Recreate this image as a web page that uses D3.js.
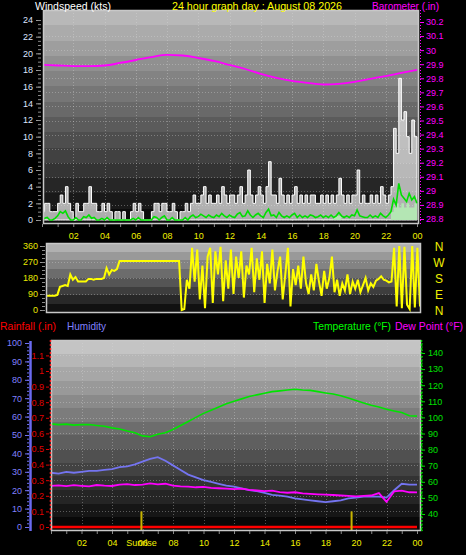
<!DOCTYPE html>
<html><head><meta charset="utf-8">
<script src="https://cdn.jsdelivr.net/npm/d3@7/dist/d3.min.js"></script>
<style>
html,body{margin:0;padding:0;background:#000;}
svg{display:block;}
text{font-family:"Liberation Sans",Arial,sans-serif;}
</style></head><body>
<svg id="chart" width="466" height="555"></svg>
<script>
// ---------------- DATA ----------------
const titleText = "24 hour graph day : August 08 2026";
const hourTicks = [2,4,6,8,10,12,14,16,18,20,22,24];
const hourLabels = ["02","04","06","08","10","12","14","16","18","20","22","00"];

// wind (kts), every 10 minutes, 00:00 .. 24:00
const windGust = [
 1,2,2,1,1,1, 2,3,2,4,2,1, 0,2,1,1,2,2, 4,2,2,1,1,2, 1,2,1,0,1,1, 0,1,0,0,1,2,
 1,2,1,0,0,0, 1,2,2,1,2,2, 1,1,2,1,0,1, 1,2,1,2,3,2, 2,3,4,2,3,2, 2,3,2,4,3,2,
 3,3,2,3,4,2, 3,6,3,2,3,4, 3,2,4,7,3,3, 2,5,3,2,3,2, 3,4,2,3,2,3, 2,3,3,2,2,3,
 2,3,2,3,2,3, 5,3,2,3,2,3, 3,6,2,3,2,2, 3,2,3,2,4,3, 2,3,4,11,8,17, 12,13,10,8,12,10,
 5];
const windAvg = [
 0,0.2,0.3,0,0,0.2, 0.5,1,0.8,1.1,0.4,0, 0,0.3,0,0,0.4,0.3, 0.6,0.2,0.3,0,0,0.2,
 0,0.3,0,0,0,0, 0,0,0,0,0,0.2, 0,0.3,0,0,0,0, 0,0.4,0.3,0,0.3,0.5,
 0,0,0.3,0,0,0, 0,0.3,0,0.4,0.6,0.3, 0.4,0.7,0.5,0.3,0.6,0.4, 0.3,0.6,0.4,0.8,0.5,0.3,
 0.6,0.4,0.3,0.7,0.9,0.4, 0.5,1.1,0.6,0.3,0.6,0.8, 0.5,0.3,0.9,1.3,0.5,0.6, 0.3,0.9,0.5,0.3,0.5,0.3,
 0.6,0.8,0.3,0.6,0.3,0.5, 0.3,0.6,0.5,0.3,0.4,0.6, 0.3,0.5,0.3,0.6,0.3,0.5, 0.9,0.5,0.3,0.5,0.3,0.6,
 0.5,1.2,0.5,0.4,0.3,0.3, 0.6,0.3,0.5,0.3,0.8,0.5, 0.3,0.6,1,2.5,1.8,4.4, 3,2.6,2.2,3.2,2.4,2.8,
 2];
const windLull = [
 0,0,0,0,0,0, 0,0,0,0,0,0, 0,0,0,0,0,0, 0,0,0,0,0,0, 0,0,0,0,0,0, 0,0,0,0,0,0,
 0,0,0,0,0,0, 0,0,0,0,0,0, 0,0,0,0,0,0, 0,0,0,0,0,0, 0,0,0,0,0,0, 0,0,0,0,0,0,
 0,0,0,0,0,0, 0,0,0,0,0,0, 0,0,0,0,0,0, 0,0,0,0,0,0, 0,0,0,0,0,0, 0,0,0,0,0,0,
 0,0,0,0,0.5,0.5, 0.5,0,0,0,0,0, 0,0,0,0,0,0, 0,0,0,0,0,0, 0,0,1,1.5,2,1.5, 2,1.5,2,1.5,1.5,2,
 1.5];
// wind direction (degrees), every 10 minutes
const windDir = [
 80,80,80,80,85, 130,135,140,135, 200,170,185,160, 160,160,160,
 175,175,170,175,175,175,180, 235,200,225,220,230,
 275,275,275,275,275,275,275,275,275,275,275,275,275,275,275,275,275,275,275,275,275,275,275,275,
 0,5,
 170,120,350,160,340,60,250,10,300,350,40,330,200,355,50,280,120,340,
 90,300,180,330,70,250,200,350,100,290,170,330,40,260,150,340,110,220,300,60,200,350,20,230,
 140,250,120,300,150,90,200,110,260,160,80,220,120,180,
 300,100,170,80,150,110,200,90,160,120,170,100,140,180,110,
 150,130,165,175,190,170,165,155,160,
 350,20,360,10,355,30,5,360,15,350,20];
// barometer (inHg), hourly
const barometer = [29.895,29.891,29.887,29.887,29.891,29.909,29.930,29.951,29.966,29.962,29.944,29.923,
 29.895,29.866,29.831,29.803,29.781,29.767,29.756,29.760,29.774,29.796,29.816,29.838,29.859];

// half-hourly bottom panel series
const temperature = [96,95.5, 95.8,95.2, 95.5,95.6, 95,94.5, 93.5,92.8, 91.5,90.5, 88.5,88, 89.5,90.5,
 92.5,95, 97.5,100, 102.5,104.5, 106.5,108.5, 110,111.5, 113,114, 115,116, 116.5,117, 117.5,117,
 116.8,116, 115.2,114.5, 113.5,112, 110.5,109, 107.5,106.5, 105,104, 103,101, 100.8];
const dewPoint = [57.5,57.8, 57.3,57.9, 57.5,57.2, 58,57.6, 57.4,58.2, 58.6,58, 58.3,59, 58.4,58.8,
 57.6,57.2, 57,56.6, 56.8,56.2, 56,55.8, 55.5,55.8, 55,54.6, 54.2,54.5, 53.6,53.2, 53.5,52.8,
 52.5,52.2, 52,51.8, 51.5,51.2, 51,51.3, 51.5,53, 47.5,54, 54.5,53.5, 53.4];
const humidity = [29.5,29, 30,29.5, 30,30.5, 30.5,31, 31.5,32.5, 33,34, 35.5,37, 38,36, 33.5,31,
 28.5,27, 25.5,24.5, 23.5,22.5, 22,21, 20,19.5, 18.5,17.5, 17,16.5, 15.5,15, 14.5,14, 13.5,14,
 14.5,15.5, 16,16.5, 16.5,16.5, 16,20, 23.5,23, 23];
const rainfall = [0,0,0,0,0,0,0,0,0,0,0,0,0,0,0,0,0,0,0,0,0,0,0,0,0];
const sunriseHour = 5.93, sunsetHour = 19.71;

const windTicks = [0,2,4,6,8,10,12,14,16,18,20,22,24];
const baroTicks = [28.8,28.9,29,29.1,29.2,29.3,29.4,29.5,29.6,29.7,29.8,29.9,30,30.1,30.2];
const dirTicks = [0,90,180,270,360];
const compass = ["N","W","S","E","N"];
const compassDeg = [360,270,180,90,0];
const humTicks = [0,10,20,30,40,50,60,70,80,90,100];
const rainTicks = [0,0.1,0.2,0.3,0.4,0.5,0.6,0.7,0.8,0.9,1,1.1];
const tempTicks = [40,50,60,70,80,90,100,110,120,130,140];

// ---------------- LAYOUT ----------------
const P1 = {x0:43, x1:419, y0:10, y1:224};
const P2 = {x0:46, x1:421, y0:243, y1:313};
const P3 = {x0:51, x1:421, y0:340, y1:531};

const xTop = d3.scaleLinear().domain([0,24]).range([42,417]);
const yWind = d3.scaleLinear().domain([0,24]).range([220,20]);
const yBaro = d3.scaleLinear().domain([28.8,30.2]).range([219,22]);
const xDir = d3.scaleLinear().domain([0,24]).range([47,420]);
const yDir = d3.scaleLinear().domain([0,360]).range([310,246]);
const xBot = d3.scaleLinear().domain([0,24]).range([51,417]);
const yHum = d3.scaleLinear().domain([0,100]).range([527,343]);
const yRain = d3.scaleLinear().domain([0,1.2]).range([527,339.8]);
const yTemp = d3.scaleLinear().domain([40,140]).range([514,353]);

const svg = d3.select("#chart");
const defs = svg.append("defs");

function bandGradient(id, top, bottom, n){
  const g = defs.append("linearGradient").attr("id",id)
    .attr("x1",0).attr("y1",0).attr("x2",0).attr("y2",1);
  const c = d3.interpolateRgb(top,bottom);
  for(let k=0;k<n;k++){
    const col = c(k/(n-1));
    g.append("stop").attr("offset",k/n).attr("stop-color",col);
    g.append("stop").attr("offset",(k+1)/n).attr("stop-color",col);
  }
}
bandGradient("g1","#b8b8b8","#0c0c0c",14);
bandGradient("g2","#b0b0b0","#111111",8);
bandGradient("g3","#c4c4c4","#080808",14);

function panel(P, grad, clipId){
  defs.append("clipPath").attr("id",clipId).append("rect")
    .attr("x",P.x0).attr("y",P.y0).attr("width",P.x1-P.x0).attr("height",P.y1-P.y0);
  svg.append("rect").attr("x",P.x0).attr("y",P.y0).attr("width",P.x1-P.x0).attr("height",P.y1-P.y0)
    .attr("fill",`url(#${grad})`);
}
panel(P1,"g1","c1");
panel(P2,"g2","c2");
panel(P3,"g3","c3");

function hGrid(P, scale, vals, clip){
  svg.append("g").attr("clip-path",`url(#${clip})`).selectAll("line").data(vals).join("line")
    .attr("x1",P.x0).attr("x2",P.x1).attr("y1",d=>Math.round(scale(d))+0.5).attr("y2",d=>Math.round(scale(d))+0.5)
    .attr("stroke","rgba(220,220,220,0.35)").attr("stroke-dasharray","1,2");
}
function vGrid(P, scale, vals, clip){
  svg.append("g").attr("clip-path",`url(#${clip})`).selectAll("line").data(vals).join("line")
    .attr("y1",P.y0).attr("y2",P.y1).attr("x1",d=>Math.round(scale(d))+0.5).attr("x2",d=>Math.round(scale(d))+0.5)
    .attr("stroke","rgba(220,220,220,0.35)").attr("stroke-dasharray","1,2");
}
hGrid(P1,yBaro,baroTicks.slice(1,-1),"c1");
vGrid(P1,xTop,hourTicks.slice(0,-1),"c1");
hGrid(P2,yDir,[90,180,270],"c2");
hGrid(P3,yRain,rainTicks.slice(1),"c3");
vGrid(P3,xBot,hourTicks.slice(0,-1),"c3");

// ---------------- TOP PANEL ----------------
const t10 = windGust.map((_,i)=>i/6);
const gTop = svg.append("g").attr("clip-path","url(#c1)");
gTop.append("path").datum(windGust)
  .attr("d", d3.area().x((d,i)=>xTop(t10[i])).y0(yWind(0)).y1(d=>yWind(d)).curve(d3.curveStepAfter))
  .attr("fill","rgba(235,235,235,0.72)").attr("stroke","#ffffff").attr("stroke-width",1);
gTop.append("path").datum(windLull)
  .attr("d", d3.area().x((d,i)=>xTop(t10[i])).y0(yWind(0)).y1(d=>yWind(d)).curve(d3.curveStepAfter))
  .attr("fill","#b4e6b4");
gTop.append("path").datum(windAvg)
  .attr("d", d3.line().x((d,i)=>xTop(t10[i])).y(d=>yWind(d)))
  .attr("fill","none").attr("stroke","#00e000").attr("stroke-width",1.6);
gTop.append("path").datum(barometer)
  .attr("d", d3.line().x((d,i)=>xTop(i)).y(d=>yBaro(d)).curve(d3.curveMonotoneX))
  .attr("fill","none").attr("stroke","#ff00ff").attr("stroke-width",1.8);

// ---------------- DIRECTION PANEL ----------------
svg.append("g").attr("clip-path","url(#c2)").append("path").datum(windDir)
  .attr("d", d3.line().x((d,i)=>xDir(t10[i])).y(d=>yDir(d)))
  .attr("fill","none").attr("stroke","#ffff00").attr("stroke-width",2);

// ---------------- BOTTOM PANEL ----------------
const t30 = temperature.map((_,i)=>i/2);
const gBot = svg.append("g").attr("clip-path","url(#c3)");
gBot.append("path").datum(humidity)
  .attr("d", d3.line().x((d,i)=>xBot(t30[i])).y(d=>yHum(d)))
  .attr("fill","none").attr("stroke","#7474f0").attr("stroke-width",1.8);
gBot.append("path").datum(dewPoint)
  .attr("d", d3.line().x((d,i)=>xBot(t30[i])).y(d=>yTemp(d)))
  .attr("fill","none").attr("stroke","#ff00ff").attr("stroke-width",1.8);
gBot.append("path").datum(temperature)
  .attr("d", d3.line().x((d,i)=>xBot(t30[i])).y(d=>yTemp(d)))
  .attr("fill","none").attr("stroke","#00e400").attr("stroke-width",1.6);
gBot.append("path").datum(rainfall)
  .attr("d", d3.line().x((d,i)=>xBot(i)).y(d=>yRain(d)))
  .attr("fill","none").attr("stroke","#ff0000").attr("stroke-width",2.6);
gBot.selectAll("line.sun").data([sunriseHour,sunsetHour]).join("line").attr("class","sun")
  .attr("x1",d=>xBot(d)).attr("x2",d=>xBot(d)).attr("y1",yRain(0.1)).attr("y2",P3.y1)
  .attr("stroke","#c8b400").attr("stroke-width",2);

// frames
[P1,P2,P3].forEach(P=>{
  svg.append("rect").attr("x",P.x0+0.5).attr("y",P.y0+0.5).attr("width",P.x1-P.x0-1).attr("height",P.y1-P.y0-1)
    .attr("fill","none").attr("stroke","#c8c8c8").attr("stroke-width",1.5);
});

// ---------------- AXES ----------------
function styleAxis(g, color, size, tickColor){
  g.selectAll("text").attr("fill",color).style("font-size",size+"px")
    .style("font-family",'"Liberation Sans",Arial,sans-serif');
  g.selectAll("line").attr("stroke",tickColor||color);
  g.select(".domain").remove();
}
function minor(axisGen, vals, x, y, color){
  const g = svg.append("g").attr("transform",`translate(${x},${y})`).call(axisGen.tickValues(vals).tickFormat(""));
  g.selectAll("line").attr("stroke",color);
  g.select(".domain").remove();
}

// top left (wind)
styleAxis(svg.append("g").attr("transform","translate(41,0)")
  .call(d3.axisLeft(yWind).tickValues(windTicks).tickSize(5).tickPadding(3)), "#dde4ff", 9, "#9a9a9a");
minor(d3.axisLeft(yWind).tickSize(3), d3.range(0,24.01,0.5), 41, 0, "#8a8a8a");
// top right (barometer)
svg.append("line").attr("x1",420.5).attr("x2",420.5).attr("y1",P1.y0).attr("y2",P1.y1)
  .attr("stroke","#ff00ff").attr("stroke-dasharray","1,2");
styleAxis(svg.append("g").attr("transform","translate(420,0)")
  .call(d3.axisRight(yBaro).tickValues(baroTicks).tickSize(4).tickPadding(2).tickFormat(d=>String(+d.toFixed(1)))), "#ff00ff", 9);
// top bottom (hours)
styleAxis(svg.append("g").attr("transform",`translate(0,${P1.y1})`)
  .call(d3.axisBottom(xTop).tickValues(hourTicks).tickSize(0).tickPadding(9).tickFormat((d,i)=>hourLabels[i])), "#f0f000", 9);
minor(d3.axisBottom(xTop).tickSize(3), d3.range(0,24.01,1), 0, P1.y1, "#8a8a8a");

// direction axis
styleAxis(svg.append("g").attr("transform",`translate(${P2.x0-1},0)`)
  .call(d3.axisLeft(yDir).tickValues(dirTicks).tickSize(5).tickPadding(2)), "#e8e800", 9, "#9a9a9a");
minor(d3.axisLeft(yDir).tickSize(3), d3.range(0,360.1,22.5), P2.x0-1, 0, "#8a8a8a");
svg.append("g").selectAll("text").data(compass).join("text")
  .attr("x",439).attr("y",(d,i)=>yDir(compassDeg[i])+4.5).attr("text-anchor","middle")
  .attr("fill","#f0f000").style("font-size","12px").text(d=>d);

// bottom: humidity axis
svg.append("line").attr("x1",30.5).attr("x2",30.5).attr("y1",P3.y0+1).attr("y2",P3.y1)
  .attr("stroke","#6a6af0").attr("stroke-width",2.5);
styleAxis(svg.append("g").attr("transform","translate(29,0)")
  .call(d3.axisLeft(yHum).tickValues(humTicks).tickSize(4).tickPadding(3)), "#8080ff", 9, "#7070f0");
minor(d3.axisLeft(yHum).tickSize(2), d3.range(0,100.1,2), 29, 0, "#7070f0");
// rainfall axis
svg.append("line").attr("x1",50.5).attr("x2",50.5).attr("y1",P3.y0).attr("y2",P3.y1)
  .attr("stroke","#ff2020").attr("stroke-width",1.5).attr("stroke-dasharray","2,2");
styleAxis(svg.append("g").attr("transform","translate(49,0)")
  .call(d3.axisLeft(yRain).tickValues(rainTicks).tickSize(3).tickPadding(2).tickFormat(d=>String(+d.toFixed(1)))), "#e00000", 9, "#e00000");
// temperature axis
svg.append("line").attr("x1",421.5).attr("x2",421.5).attr("y1",P3.y0).attr("y2",P3.y1)
  .attr("stroke","#00e000").attr("stroke-width",1.5).attr("stroke-dasharray","2,2");
styleAxis(svg.append("g").attr("transform","translate(421,0)")
  .call(d3.axisRight(yTemp).tickValues(tempTicks).tickSize(4).tickPadding(3)), "#00e000", 9);
minor(d3.axisRight(yTemp).tickSize(2), d3.range(30,148,2), 421, 0, "#00c000");
// bottom hours
styleAxis(svg.append("g").attr("transform",`translate(0,${P3.y1})`)
  .call(d3.axisBottom(xBot).tickValues(hourTicks).tickSize(0).tickPadding(9).tickFormat((d,i)=>hourLabels[i])), "#f0f000", 9);
minor(d3.axisBottom(xBot).tickSize(3), d3.range(0,24.01,1), 0, P3.y1, "#8a8a8a");
svg.append("text").attr("x",xBot(sunriseHour)).attr("y",P3.y1+9+6.4).attr("text-anchor","middle")
  .attr("fill","#f0f000").style("font-size","9px").text("Sunrise");

// ---------------- TITLES / LEGENDS ----------------
function label(txt, x, y, color, len){
  svg.append("text").attr("x",x).attr("y",y).attr("fill",color).style("font-size","11px")
    .attr("textLength",len).attr("lengthAdjust","spacingAndGlyphs").text(txt);
}
label("Windspeed (kts)", 35, 10, "#ffffff", 76);
label(titleText, 172, 10, "#ffff00", 170);
label("Barometer (.in)", 372, 10, "#ff00ff", 67);
label("Rainfall (.in)", 0, 330, "#ff0000", 56);
label("Humidity", 67, 330, "#8080ff", 39);
label("Temperature (°F)", 313, 330, "#00ff00", 78);
label("Dew Point (°F)", 395, 330, "#ff00ff", 68);
</script>
</body></html>
